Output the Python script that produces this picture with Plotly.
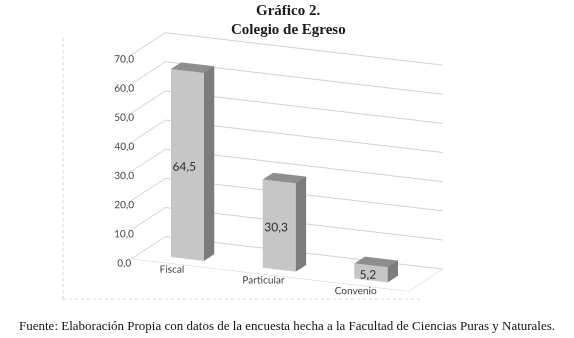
import plotly.graph_objects as go

categories = ["Fiscal", "Particular", "Convenio"]
values = [64.5, 30.3, 5.2]
value_labels = ["64,5", "30,3", "5,2"]
z_ticks = [0, 10, 20, 30, 40, 50, 60, 70]

half_w = 0.18
y0, y1 = 0.25, 0.55

FRONT = "#c6c6c6"
SIDE = "#7c7c7c"
TOP = "#8e8e8e"

xs, ys, zs, ii, jj, kk, fc = [], [], [], [], [], [], []
for idx, v in enumerate(values):
    b = len(xs)
    xa, xb = idx - half_w, idx + half_w
    pts = [(xa, y0, 0), (xb, y0, 0), (xb, y1, 0), (xa, y1, 0),
           (xa, y0, v), (xb, y0, v), (xb, y1, v), (xa, y1, v)]
    for p in pts:
        xs.append(p[0]); ys.append(p[1]); zs.append(p[2])
    faces = [
        ((0, 1, 5), FRONT), ((0, 5, 4), FRONT),
        ((1, 2, 6), SIDE), ((1, 6, 5), SIDE),
        ((4, 5, 6), TOP), ((4, 6, 7), TOP),
        ((3, 2, 6), SIDE), ((3, 6, 7), SIDE),
        ((0, 3, 7), SIDE), ((0, 7, 4), SIDE),
        ((0, 1, 2), SIDE), ((0, 2, 3), SIDE),
    ]
    for (a, c, d), col in faces:
        ii.append(b + a); jj.append(b + c); kk.append(b + d); fc.append(col)

fig = go.Figure()
fig.add_trace(go.Mesh3d(
    x=xs, y=ys, z=zs, i=ii, j=jj, k=kk, facecolor=fc,
    flatshading=True,
    lighting=dict(ambient=1, diffuse=0, specular=0, roughness=1, fresnel=0),
    hoverinfo="skip", showscale=False,
))
fig.add_trace(go.Scatter3d(
    x=list(range(len(values))), y=[0.15] * len(values),
    z=[v / 2 for v in values], mode="text", text=value_labels,
    textposition="middle center",
    textfont=dict(family="Lato, Liberation Sans", size=12, color="#303030"),
    hoverinfo="skip", showlegend=False,
))

axis_common = dict(showbackground=False, showspikes=False, title=dict(text=""))
fig.update_layout(
    width=574, height=338,
    margin=dict(l=0, r=0, t=0, b=0),
    paper_bgcolor="white",
    separators=",.",
    showlegend=False,
    scene=dict(
        domain=dict(x=[0.0, 1.0], y=[0.04, 1.0]),
        xaxis=dict(axis_common, range=[-0.52, 2.5], tickvals=list(range(len(categories))),
                   ticktext=categories, showgrid=False, zeroline=False,
                   showline=True, linecolor="#cfcfcf", ticks="", tickangle=0,
                   tickfont=dict(family="Lato, Liberation Sans", size=11, color="#404040")),
        yaxis=dict(axis_common, range=[0, 1], showticklabels=False, showgrid=False,
                   zeroline=False, showline=True, linecolor="#cfcfcf", ticks=""),
        zaxis=dict(axis_common, range=[0, 70], tickvals=z_ticks, tickformat=".1f",
                   showgrid=True, gridcolor="#cfd4d0", zeroline=False, showline=False,
                   ticks="", tickangle=0,
                   tickfont=dict(family="Lato, Liberation Sans", size=11, color="#404040")),
        aspectmode="manual",
        aspectratio=dict(x=1.86, y=0.54, z=1.31),
        camera=dict(eye=dict(x=0.695, y=-1.637, z=0.51), center=dict(x=0, y=0, z=0),
                    projection=dict(type="orthographic")),
    ),
    shapes=[
        dict(type="line", xref="paper", yref="paper", x0=0.11, x1=0.11, y0=0.115, y1=0.888,
             line=dict(color="#d6d0dc", width=1, dash="dot")),
        dict(type="line", xref="paper", yref="paper", x0=0.11, x1=0.733, y0=0.115, y1=0.115,
             line=dict(color="#d6d0dc", width=1, dash="dot")),
    ],
    annotations=[
        dict(text="<b>Gráfico 2.</b>", xref="paper", yref="paper", x=0.502, y=1.0,
             xanchor="center", yanchor="top", showarrow=False,
             font=dict(family="Liberation Serif", size=15, color="#1a1a1a")),
        dict(text="<b>Colegio de Egreso</b>", xref="paper", yref="paper", x=0.502, y=0.945,
             xanchor="center", yanchor="top", showarrow=False,
             font=dict(family="Liberation Serif", size=15, color="#1a1a1a")),
        dict(text="Fuente: Elaboración Propia con datos de la encuesta hecha a la Facultad de Ciencias Puras y Naturales.",
             xref="paper", yref="paper", x=0.5, y=0.01, xanchor="center", yanchor="bottom",
             showarrow=False, font=dict(family="Liberation Serif", size=13, color="#111111")),
    ],
)

fig.write_html("out.html", config=dict(displayModeBar=False))
